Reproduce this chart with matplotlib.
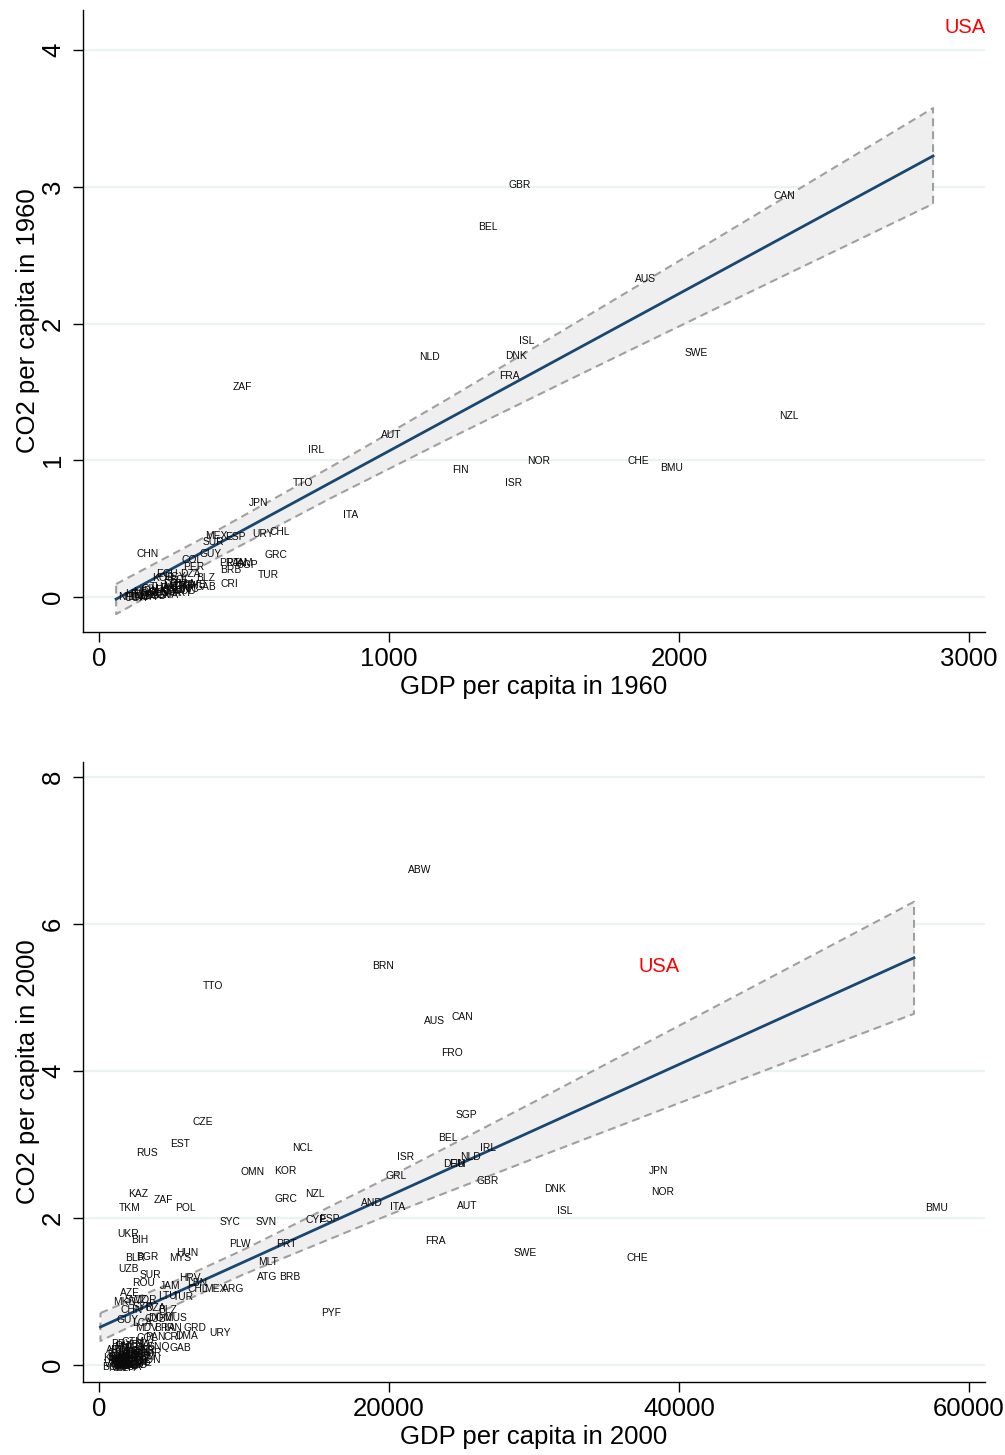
import matplotlib
matplotlib.use("Agg")
import matplotlib.pyplot as plt
import numpy as np

plt.rcParams['font.family'] = ['Liberation Sans', 'DejaVu Sans']

# ---------------- Panel 1: 1960 ----------------
codes_1960 = ["GBR", "CAN", "BEL", "AUS", "ISL", "NLD", "DNK", "SWE", "FRA", "ZAF",
              "NZL", "AUT", "IRL", "NOR", "CHE", "BMU", "FIN", "TTO", "ISR", "JPN",
              "ITA", "CHL", "URY", "ESP", "MEX", "SUR", "CHN", "GUY", "GRC", "COL",
              "PER", "PRT", "PAN", "JAM", "SGP", "BRB", "TUR", "CRI", "BLZ", "DZA",
              "ECU", "KOR", "GAB", "COD", "EGY", "BOL",
              "IND", "PAK", "NGA", "KEN", "UGA", "TZA", "ETH", "BGD", "LKA", "IDN",
              "PHL", "THA", "MAR", "TUN", "SYR", "HND", "SLV", "GTM", "NIC", "PRY",
              "BRA", "DOM", "SEN", "GHA", "ZMB", "CIV", "MDG", "HTI", "NPL"]
gdp_1960 = [1452, 2365, 1341, 1883, 1476, 1141, 1438, 2058, 1414, 493,
            2379, 1007, 748, 1517, 1858, 1976, 1245, 703, 1431, 552,
            869, 624, 565, 469, 403, 393, 169, 383, 610, 321,
            328, 448, 472, 497, 510, 455, 583, 448, 369, 314,
            234, 221, 366, 297, 262, 279,
            141, 176, 159, 210, 124, 148, 131, 193, 228, 176,
            245, 210, 262, 279, 252, 228, 272, 297, 314, 286,
            297, 262, 203, 238, 331, 176, 159, 117, 100]
co2_1960 = [3.013, 2.933, 2.706, 2.326, 1.872, 1.755, 1.762, 1.784, 1.616, 1.536,
            1.324, 1.185, 1.075, 0.995, 0.995, 0.943, 0.929, 0.834, 0.834, 0.687,
            0.600, 0.475, 0.461, 0.439, 0.446, 0.402, 0.314, 0.314, 0.307, 0.271,
            0.219, 0.249, 0.249, 0.249, 0.234, 0.197, 0.161, 0.095, 0.139, 0.168,
            0.168, 0.139, 0.073, 0.044, 0.146, 0.124,
            0.007, 0.022, 0.000, 0.015, -0.007, 0.015, 0.000, 0.007, 0.051, 0.044,
            0.066, 0.073, 0.080, 0.059, 0.029, 0.037, 0.051, 0.080, 0.059, 0.029,
            0.095, 0.095, 0.029, 0.015, 0.088, 0.059, 0.037, 0.022, 0.000]
usa_1960 = (2986, 4.161)

fit_x_1960 = [59, 400, 800, 1200, 1600, 2000, 2400, 2876]
fit_y_1960 = [-0.015, 0.378, 0.838, 1.298, 1.758, 2.218, 2.678, 3.225]
ci_lo_1960 = [-0.125, 0.278, 0.724, 1.151, 1.567, 1.979, 2.389, 2.875]
ci_hi_1960 = [0.095, 0.478, 0.952, 1.445, 1.949, 2.457, 2.967, 3.575]

# ---------------- Panel 2: 2000 ----------------
codes_2000 = ["ABW", "BRN", "TTO", "AUS", "CAN", "FRO", "SGP", "CZE", "EST", "BEL",
              "NCL", "IRL", "RUS", "ISR", "NLD", "DEU", "FIN", "OMN", "KOR", "JPN",
              "GRL", "GBR", "DNK", "NOR", "KAZ", "NZL", "GRC", "ZAF", "AND", "TKM",
              "POL", "ITA", "AUT", "BMU", "ISL", "SYC", "SVN", "CYP", "ESP", "UKR",
              "BIH", "FRA", "PLW", "PRT", "HUN", "SWE", "BGR", "BLR", "MYS", "CHE",
              "MLT", "UZB", "SUR", "ATG", "BRB", "HRV", "LBN", "ROU", "JAM", "CHL",
              "MEX", "ARG", "LTU", "TUR", "AZE", "PYF", "MKD", "SWZ", "JOR", "DZA",
              "CHN", "BLZ", "SYR", "GUY", "LCA", "CUB", "DOM", "MUS", "MDV", "BRA",
              "IRN", "GRD", "URY", "COL", "PAN", "CRI", "DMA", "GAB", "GNQ", "THA",
              "PHL", "IDN", "EGY", "MAR", "TUN", "PER", "ECU", "BOL", "IND", "PAK",
              "NGA", "KEN", "GHA", "SEN", "CIV", "HND", "NIC", "LKA", "VNM", "BGD",
              "NPL", "ETH", "UGA", "TZA", "MOZ", "MDG", "ZMB", "KHM", "LAO", "YEM",
              "SDN", "CMR", "SLV", "GTM", "PRY", "ARM",
              "MLI", "BFA", "NER", "TCD", "RWA", "BEN", "TGO", "GIN", "MWI", "ZWE",
              "AGO", "COG", "MNG", "KGZ", "TJK", "GEO", "MDA"]
gdp_2000 = [22139, 19588, 7863, 23105, 25036, 24346, 25312, 7173, 5587, 24071,
            14001, 26829, 3311, 21174, 25588, 24484, 24691, 10621, 12828, 38621,
            20484, 26829, 31450, 38899, 2690, 14897, 12897, 4414, 18829, 2138,
            5931, 20622, 25381, 57728, 32140, 9035, 11518, 14966, 15863, 2000,
            2828, 23174, 9725, 12897, 6069, 29381, 3311, 2483, 5587, 37106,
            11656, 2000, 3517, 11587, 13173, 6276, 6759, 3104, 4897, 6828,
            8000, 9242, 4690, 5793, 2138, 16001, 1793, 2552, 3311, 3862,
            2276, 4759, 3035, 2000, 2966, 3862, 4207, 5242, 3311, 4552,
            5104, 6621, 8345, 3311, 3862, 5035, 6069, 5587, 4069, 2828,
            1793, 1448, 2483, 2138, 2828, 3173, 1793, 1310, 1448, 1241,
            1655, 2000, 2276, 2621, 2966, 2138, 1448, 2483, 1103, 966,
            1310, 1793, 2138, 1586, 1931, 2483, 2828, 1103, 2000, 3173,
            3517, 3517, 3173, 2345, 1586, 1241,
            1380, 1720, 1520, 1860, 2070, 2350, 2620, 1240, 1650, 2900,
            2480, 3000, 1900, 1550, 1310, 2210, 2760]
co2_2000 = [6.735, 5.428, 5.156, 4.680, 4.735, 4.245, 3.401, 3.306, 3.007, 3.088,
            2.952, 2.952, 2.884, 2.830, 2.830, 2.735, 2.735, 2.626, 2.639, 2.639,
            2.571, 2.503, 2.394, 2.354, 2.326, 2.326, 2.258, 2.245, 2.204, 2.136,
            2.136, 2.150, 2.163, 2.136, 2.095, 1.946, 1.946, 1.973, 1.986, 1.782,
            1.701, 1.687, 1.646, 1.646, 1.524, 1.524, 1.469, 1.456, 1.456, 1.456,
            1.401, 1.306, 1.224, 1.197, 1.197, 1.184, 1.116, 1.116, 1.075, 1.034,
            1.034, 1.034, 0.939, 0.925, 0.980, 0.707, 0.857, 0.884, 0.884, 0.775,
            0.748, 0.748, 0.789, 0.612, 0.571, 0.626, 0.639, 0.639, 0.503, 0.503,
            0.503, 0.503, 0.435, 0.367, 0.381, 0.381, 0.395, 0.231, 0.245, 0.272,
            0.258, 0.204, 0.231, 0.177, 0.177, 0.204, 0.136, 0.095, 0.041, 0.068,
            0.000, 0.068, 0.109, 0.054, 0.109, 0.014, -0.014, 0.150, 0.014, -0.027,
            -0.041, -0.041, -0.027, 0.054, -0.014, 0.000, 0.041, 0.095, 0.122, 0.109,
            0.068, 0.163, 0.286, 0.313, 0.286, 0.204,
            0.020, -0.020, 0.080, 0.030, 0.120, -0.005, 0.060, 0.160, 0.100, 0.030,
            0.140, 0.190, 0.240, 0.070, 0.115, 0.025, 0.150]
usa_2000 = (38621, 5.428)

fit_x_2000 = [100, 5000, 10000, 20000, 30000, 40000, 50000, 56207]
fit_y_2000 = [0.517, 0.956, 1.403, 2.299, 3.194, 4.089, 4.985, 5.540]
ci_lo_2000 = [0.327, 0.793, 1.235, 2.043, 2.809, 3.563, 4.314, 4.778]
ci_hi_2000 = [0.707, 1.119, 1.571, 2.555, 3.579, 4.615, 5.656, 6.302]

FIT_COLOR = "#1a476f"
CI_FILL = "#efefef"
CI_EDGE = "#a0a0a0"
GRID_COLOR = "#eaf2f3"

fig = plt.figure(figsize=(10.05, 14.55), dpi=100)


def panel(rect, codes, gx, cy, usa, fx, fy, lo, hi, xlim, ylim, xticks, yticks,
          xlabel, ylabel):
    ax = fig.add_axes(rect)
    ax.set_xlim(*xlim)
    ax.set_ylim(*ylim)
    for yt in yticks:
        ax.axhline(yt, color=GRID_COLOR, lw=1.6, zorder=0)
    ax.fill_between(fx, lo, hi, color=CI_FILL, lw=0, zorder=1)
    # dashed CI outline (upper, right end, lower, left end)
    ox = list(fx) + [fx[-1]] + list(fx[::-1]) + [fx[0]]
    oy = list(hi) + [lo[-1]] + list(lo[::-1]) + [hi[0]]
    ax.plot(ox, oy, color=CI_EDGE, lw=1.5, ls=(0, (3.8, 2.4)), zorder=2)
    ax.plot(fx, fy, color=FIT_COLOR, lw=2.0, zorder=3)
    for c, x, y in zip(codes, gx, cy):
        ax.text(x, y, c, fontsize=7.4, ha="center", va="center", color="#0a0a0a",
                zorder=4)
    ax.text(usa[0], usa[1], "USA", fontsize=14.5, ha="center", va="center",
            color="red", zorder=5)
    for s in ("top", "right"):
        ax.spines[s].set_visible(False)
    for s in ("left", "bottom"):
        ax.spines[s].set_linewidth(1.0)
    ax.set_xticks(xticks)
    ax.set_yticks(yticks)
    ax.set_xticklabels([str(t) for t in xticks])
    ax.set_yticklabels([str(t) for t in yticks], rotation=90, va="center")
    ax.tick_params(axis="both", direction="out", length=7, width=1.0,
                   labelsize=18.5)
    ax.tick_params(axis="x", pad=4)
    ax.tick_params(axis="y", pad=6)
    ax.set_xlabel(xlabel, fontsize=18.5, labelpad=3)
    ax.set_ylabel(ylabel, fontsize=18.5, labelpad=1)
    return ax


panel([0.0826, 0.5656, 0.8975, 0.4275], codes_1960, gdp_1960, co2_1960, usa_1960,
      fit_x_1960, fit_y_1960, ci_lo_1960, ci_hi_1960,
      (-55.2, 3055.2), (-0.256, 4.292), [0, 1000, 2000, 3000], [0, 1, 2, 3, 4],
      "GDP per capita in 1960", "CO2 per capita in 1960")

panel([0.0826, 0.0502, 0.8975, 0.4261], codes_2000, gdp_2000, co2_2000, usa_2000,
      fit_x_2000, fit_y_2000, ci_lo_2000, ci_hi_2000,
      (-1103, 61103), (-0.231, 8.204), [0, 20000, 40000, 60000], [0, 2, 4, 6, 8],
      "GDP per capita in 2000", "CO2 per capita in 2000")

fig.savefig("out.png", dpi=100, facecolor="white")
